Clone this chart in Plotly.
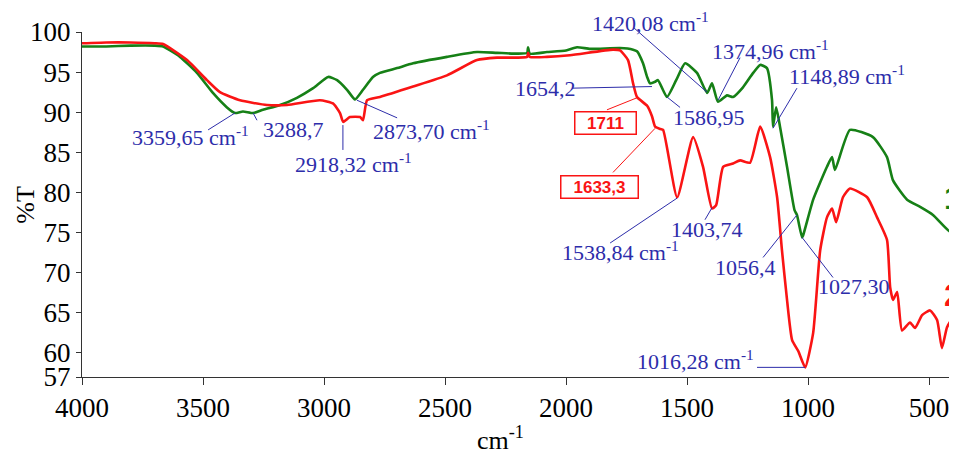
import plotly.graph_objects as go

# ---------------- data ----------------
wn_green = [4000, 3900, 3800, 3700, 3665, 3595, 3525, 3459, 3401, 3368, 3335, 3293, 3252, 3182,
            3112, 3045, 2983, 2946, 2905, 2872, 2839, 2798, 2769, 2698, 2632, 2492, 2368, 2285,
            2200, 2161, 2157, 2150, 2079, 2000, 1955, 1900, 1777, 1723, 1707, 1682, 1665, 1653,
            1632, 1620, 1583, 1545, 1508, 1459, 1417, 1397, 1372, 1335, 1310, 1269, 1227, 1198,
            1170, 1149, 1145, 1132, 1116, 1087, 1056, 1046, 1025, 1021, 979, 922, 901, 889, 827,
            732, 674, 649, 591, 537, 484, 413, 400]
t_green = [98.2, 98.2, 98.3, 98.3, 98.2, 96.9, 94.9, 92.4, 90.6, 89.9, 90.1, 89.9, 90.3, 90.9,
           91.8, 93.0, 94.4, 94.0, 92.8, 91.6, 92.8, 94.4, 94.9, 95.5, 96.1, 96.9, 97.5, 97.4,
           97.3, 97.4, 98.1, 97.3, 97.5, 97.7, 98.1, 97.9, 98.0, 97.8, 97.6, 96.1, 94.4, 93.6,
           93.8, 94.0, 91.9, 94.0, 96.1, 94.9, 92.4, 93.6, 91.3, 92.1, 91.9, 93.1, 94.9, 95.9,
           95.5, 91.5, 88.2, 90.6, 88.2, 83.2, 77.8, 77.2, 74.4, 74.6, 79.1, 83.2, 84.4, 82.8, 87.8,
           86.9, 84.4, 81.5, 79.1, 78.2, 77.2, 75.1, 75.3]

wn_red = [4000, 3900, 3800, 3700, 3665, 3566, 3484, 3430, 3347, 3236, 3153, 3017, 2963, 2934,
          2921, 2893, 2851, 2839, 2822, 2769, 2632, 2492, 2368, 2285, 2161, 2157, 2150, 2079,
          1984, 1806, 1777, 1744, 1723, 1707, 1665, 1645, 1632, 1610, 1599, 1541, 1475, 1434,
          1397, 1380, 1351, 1310, 1281, 1240, 1198, 1157, 1128, 1108, 1087, 1066, 1040, 1012,
          979, 950, 922, 901, 884, 856, 827, 756, 715, 674, 661, 649, 632, 612, 579, 558, 529,
          496, 467, 447, 426, 401]
t_red = [98.6, 98.7, 98.7, 98.6, 98.5, 96.5, 94.0, 92.5, 91.5, 90.9, 90.9, 91.5, 91.1, 89.9,
         88.8, 89.4, 89.4, 89.0, 91.5, 91.9, 93.2, 94.6, 96.5, 96.8, 96.9, 97.4, 96.9, 96.9,
         97.1, 97.8, 97.7, 96.5, 93.6, 91.9, 90.8, 89.5, 88.2, 87.9, 87.8, 79.4, 86.9, 83.2,
         78.0, 78.4, 83.2, 83.6, 84.0, 83.7, 88.2, 84.4, 79.4, 72.8, 66.6, 61.6, 60.2, 58.2,
         62.5, 72.8, 76.9, 78.0, 76.3, 79.4, 80.5, 79.4, 76.9, 74.1, 68.2, 66.6, 67.6, 62.8,
         63.8, 63.1, 64.7, 65.3, 64.1, 60.6, 63.2, 64.5]

x_ticks = [4000, 3500, 3000, 2500, 2000, 1500, 1000, 500]
y_ticks = [57, 60, 65, 70, 75, 80, 85, 90, 95, 100]
x_range = [4000, 393]
y_range = [57, 100]

# peak labels (blue)
peak_texts = ["3359,65 cm<sup>-1</sup>", "3288,7", "2918,32 cm<sup>-1</sup>", "2873,70 cm<sup>-1</sup>",
              "1654,2", "1420,08 cm<sup>-1</sup>", "1374,96 cm<sup>-1</sup>", "1148,89 cm<sup>-1</sup>",
              "1586,95", "1538,84 cm<sup>-1</sup>", "1403,74", "1056,4", "1027,30",
              "1016,28 cm<sup>-1</sup>"]
peak_x = [3550, 3128, 2880, 2554, 2083, 1653, 1157, 839, 1409, 1777, 1418, 1260, 810, 1467]
peak_y = [87.0, 87.8, 83.7, 87.8, 93.0, 101.2, 97.8, 94.6, 89.3, 72.7, 75.4, 70.6, 68.3, 59.1]

# leader lines (blue): start -> end
lead_x0 = [3479, 3277, 2922, 2864, 1975, 1719, 1281, 1046, 1583, 1818, 1426, 1186, 897, 1211]
lead_y0 = [87.8, 89.0, 85.3, 91.5, 93.0, 100.5, 96.8, 93.0, 91.9, 73.7, 76.6, 71.9, 69.4, 58.2]
lead_x1 = [3368, 3293, 2922, 2698, 1645, 1418, 1372, 1145, 1529, 1541, 1397, 1046, 1025, 1013]
lead_y1 = [89.9, 89.9, 88.4, 89.3, 93.2, 92.5, 91.5, 88.0, 90.6, 79.3, 78.1, 77.2, 74.4, 58.2]

# boxed red labels
box_texts = ["1711", "1633,3"]
box_x = [1835, 1860]
box_y = [88.7, 80.7]
box_lx0 = [1831, 1806]
box_ly0 = [90.3, 82.5]
box_lx1 = [1707, 1632]
box_ly1 = [91.8, 88.0]

series_names = ["1", "2"]
series_label_x = [446, 446]
series_label_y = [79.3, 67.2]

GREEN = "rgb(22,128,22)"
RED = "rgb(250,20,20)"
BLUE = "rgb(45,45,170)"
SERIF = "Liberation Serif, Times New Roman, serif"


def to_paper(v):
    return (v - y_range[0]) / (y_range[1] - y_range[0])


fig = go.Figure()
fig.add_trace(go.Scatter(x=wn_green, y=t_green, mode="lines",
                         line=dict(color=GREEN, width=2.6, shape="spline", smoothing=0.5),
                         name=series_names[0], showlegend=False))
fig.add_trace(go.Scatter(x=wn_red, y=t_red, mode="lines",
                         line=dict(color=RED, width=2.6, shape="spline", smoothing=0.5),
                         name=series_names[1], showlegend=False))

shapes = []
for a, b, c, d in zip(lead_x0, lead_y0, lead_x1, lead_y1):
    if max(b, d) > y_range[1]:
        shapes.append(dict(type="line", xref="x", yref="paper", x0=a, y0=to_paper(b), x1=c,
                           y1=to_paper(d), line=dict(color=BLUE, width=1)))
    else:
        shapes.append(dict(type="line", xref="x", yref="y", x0=a, y0=b, x1=c, y1=d,
                           line=dict(color=BLUE, width=1)))
for a, b, c, d in zip(box_lx0, box_ly0, box_lx1, box_ly1):
    shapes.append(dict(type="line", xref="x", yref="y", x0=a, y0=b, x1=c, y1=d,
                       line=dict(color=RED, width=1)))

annotations = []
for t, x, y in zip(peak_texts, peak_x, peak_y):
    if y > y_range[1]:
        yr, yv = "paper", to_paper(y)
    else:
        yr, yv = "y", y
    annotations.append(dict(x=x, y=yv, xref="x", yref=yr, text=t, showarrow=False,
                            xanchor="center", yanchor="middle",
                            font=dict(family=SERIF, size=22, color=BLUE)))
box_w = [58, 74]
for t, x, y, w in zip(box_texts, box_x, box_y, box_w):
    annotations.append(dict(x=x, y=y, xref="x", yref="y", text="<b>" + t + "</b>", showarrow=False,
                            xanchor="center", yanchor="middle",
                            font=dict(family="Liberation Sans, Arial, sans-serif", size=17, color=RED),
                            bordercolor=RED, borderwidth=1.5, borderpad=1, width=w,
                            bgcolor="white"))
for t, x, y, c in zip(series_names, series_label_x, series_label_y, [GREEN, RED]):
    annotations.append(dict(x=x, y=y, xref="x", yref="y", text="<b>" + t + "</b>", showarrow=False,
                            xanchor="left", yanchor="middle",
                            font=dict(family="Liberation Sans, Arial, sans-serif", size=32, color=c)))
# axis titles
annotations.append(dict(x=-0.065, y=0.5, xref="paper", yref="paper", text="%T", textangle=-90,
                        xanchor="center", yanchor="middle",
                        showarrow=False, font=dict(family=SERIF, size=26, color="black")))
annotations.append(dict(x=0.479, y=-0.178, xref="paper", yref="paper", text="cm<sup>-1</sup>",
                        xanchor="center", yanchor="middle",
                        showarrow=False, font=dict(family=SERIF, size=26, color="black")))

# the page body adds an 8px offset, so the figure is 8px smaller and margins shifted
fig.update_layout(
    width=949, height=447, autosize=False,
    margin=dict(l=74, r=2, t=24, b=78),
    paper_bgcolor="white", plot_bgcolor="white",
    shapes=shapes, annotations=annotations,
    xaxis=dict(range=x_range, tickvals=x_ticks, ticks="outside", ticklen=7, tickcolor="#333",
               showline=True, linecolor="#333", linewidth=1, showgrid=False, zeroline=False,
               tickfont=dict(family=SERIF, size=27, color="black")),
    yaxis=dict(range=y_range, tickvals=y_ticks, ticks="outside", ticklen=5, tickcolor="#333",
               showline=True, linecolor="#333", linewidth=1, showgrid=False, zeroline=False,
               tickfont=dict(family=SERIF, size=27, color="black")),
)

fig.write_html("out.html")
